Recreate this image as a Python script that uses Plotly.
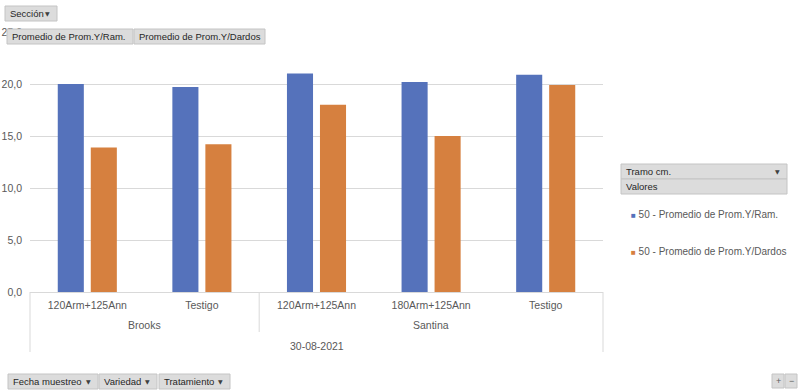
import plotly.graph_objects as go

fecha = "30-08-2021"
variedad = ["Brooks", "Brooks", "Santina", "Santina", "Santina"]
tratamiento = ["120Arm+125Ann", "Testigo", "120Arm+125Ann", "180Arm+125Ann", "Testigo"]
prom_ram = [20.0, 19.7, 21.0, 20.2, 20.9]
prom_dardos = [13.9, 14.2, 18.0, 15.0, 19.9]
serie_names = ["50 - Promedio de Prom.Y/Ram.", "50 - Promedio de Prom.Y/Dardos"]
y_ticks = [0, 5, 10, 15, 20, 25]

BLUE = "#5572BB"
ORANGE = "#D6803F"
FONT = "Liberation Sans"
GRAY_TXT = "#595959"
GRID = "#D9D9D9"

pos = list(range(len(tratamiento)))

fig = go.Figure()
fig.add_trace(go.Bar(x=pos, y=prom_ram, name=serie_names[0],
                     marker=dict(color=BLUE, line=dict(width=0))))
fig.add_trace(go.Bar(x=pos, y=prom_dardos, name=serie_names[1],
                     marker=dict(color=ORANGE, line=dict(width=0))))

W, H = 803, 390
L, T = 30, 32
R = W - 603
B = H - 292
pw, ph = W - L - R, H - T - B

def px(x):
    return (x - L) / pw

def py(y):
    return (H - B - y) / ph

fig.update_layout(
    width=W, height=H,
    margin=dict(l=L, r=R, t=T, b=B),
    paper_bgcolor="white", plot_bgcolor="white",
    barmode="group", bargap=0.424, bargroupgap=0.21,
    showlegend=False,
    separators=",.",
    font=dict(family=FONT, size=10, color=GRAY_TXT),
)
fig.update_yaxes(range=[0, 25], tickvals=y_ticks, tickformat=".1f",
                 showgrid=True, gridcolor=GRID, gridwidth=1,
                 zeroline=False, showline=False, ticks="", automargin=False,
                 ticklabelstandoff=7,
                 tickfont=dict(family=FONT, size=10.5, color=GRAY_TXT))
fig.update_xaxes(range=[-0.5, len(pos) - 0.5], tickvals=pos, ticktext=tratamiento,
                 showline=True, linecolor=GRID, linewidth=1,
                 showgrid=False, zeroline=False, ticks="", automargin=False,
                 ticklabelstandoff=3,
                 tickfont=dict(family=FONT, size=10.5, color=GRAY_TXT))

ann = []
shapes = []

# variety group labels and dividers
groups = []
for i, v in enumerate(variedad):
    if not groups or groups[-1][0] != v:
        groups.append([v, i, i])
    else:
        groups[-1][2] = i
for v, i0, i1 in groups:
    ann.append(dict(text=v, xref="x", yref="paper", x=(i0 + i1) / 2, y=py(325),
                    xanchor="center", yanchor="middle", showarrow=False,
                    font=dict(family=FONT, size=10.5, color=GRAY_TXT)))
for v, i0, i1 in groups[1:]:
    shapes.append(dict(type="line", xref="x", yref="paper", x0=i0 - 0.5, x1=i0 - 0.5,
                       y0=0, y1=py(332), line=dict(color=GRID, width=1)))

# date label (third category level)
ann.append(dict(text=fecha, xref="paper", yref="paper", x=0.5, y=py(346),
                xanchor="center", yanchor="middle", showarrow=False,
                font=dict(family=FONT, size=10.5, color=GRAY_TXT)))
for xe in (0, 1):
    shapes.append(dict(type="line", xref="paper", yref="paper", x0=xe, x1=xe,
                       y0=0, y1=py(352), line=dict(color=GRID, width=1)))


def button(text, x0, y0, w, h=15, arrow=False):
    shapes.append(dict(type="rect", xref="paper", yref="paper",
                       x0=px(x0), x1=px(x0 + w), y0=py(y0), y1=py(y0 + h),
                       fillcolor="#DCDCDC", line=dict(color="#C4C4C4", width=1),
                       layer="above"))
    ann.append(dict(text=text, xref="paper", yref="paper", x=px(x0 + 3), y=py(y0 + h / 2),
                    xanchor="left", yanchor="middle", showarrow=False,
                    font=dict(family=FONT, size=9.5, color="#262626")))
    if arrow:
        ann.append(dict(text="▼", xref="paper", yref="paper", x=px(x0 + w - 5), y=py(y0 + h / 2),
                        xanchor="right", yanchor="middle", showarrow=False,
                        font=dict(family="DejaVu Sans", size=6, color="#404040")))

button("Sección", 5, 6, 52, arrow=True)
button("Promedio de Prom.Y/Ram.", 7, 29, 126)
button("Promedio de Prom.Y/Dardos", 134, 29, 131)
button("Fecha muestreo", 8, 374, 90, arrow=True)
button("Variedad", 99, 374, 58, arrow=True)
button("Tratamiento", 159, 374, 71, arrow=True)
button("Tramo cm.", 621, 164, 166, arrow=True)
button("Valores", 621, 179, 166)

# zoom +/- buttons
for x0, sym in ((772, "+"), (785, "−")):
    shapes.append(dict(type="rect", xref="paper", yref="paper",
                       x0=px(x0), x1=px(x0 + 12), y0=py(374), y1=py(388),
                       fillcolor="#DCDCDC", line=dict(color="#C4C4C4", width=1)))
    ann.append(dict(text=sym, xref="paper", yref="paper", x=px(x0 + 6), y=py(381),
                    xanchor="center", yanchor="middle", showarrow=False,
                    font=dict(family=FONT, size=9, color="#606060")))

# legend
for i, (nm, col) in enumerate(zip(serie_names, [BLUE, ORANGE])):
    yy = [214, 251][i]
    ann.append(dict(text=f"<span style='color:{col};font-size:8px'>■</span> {nm}",
                    xref="paper", yref="paper",
                    x=px(629), y=py(yy), xanchor="left", yanchor="middle", showarrow=False,
                    font=dict(family=FONT, size=10, color=GRAY_TXT)))

fig.update_layout(annotations=ann, shapes=shapes)
fig.write_html("out.html", config={"displayModeBar": False},
               post_script="document.body.style.margin='0';")
